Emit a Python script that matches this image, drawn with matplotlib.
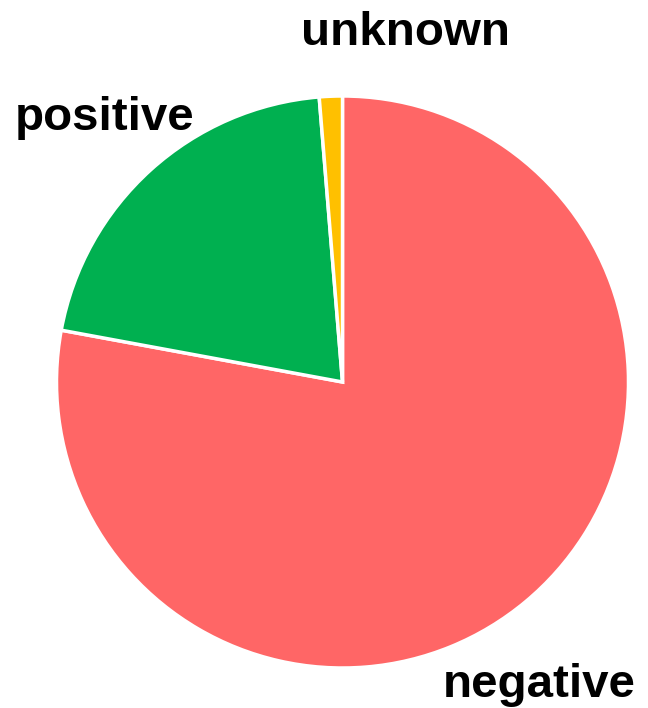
import matplotlib
matplotlib.use("Agg")
import matplotlib.pyplot as plt

labels = ["negative", "positive", "unknown"]
values = [77.9, 20.8, 1.3]
colors = ["#FF6666", "#00B050", "#FFC000"]

W, H, dpi = 648, 708, 100
fig = plt.figure(figsize=(W / dpi, H / dpi), dpi=dpi)
ax = fig.add_axes([0, 0, 1, 1])
cx, cy, r = 342.5, 382, 286

ax.pie(values, colors=colors, startangle=90, counterclock=False,
       wedgeprops=dict(edgecolor="white", linewidth=2.5), radius=1)

ax.set_xlim(-cx / r, (W - cx) / r)
ax.set_ylim(-(H - cy) / r, cy / r)
ax.set_aspect("equal")
ax.axis("off")

label_pos = {"unknown": (405, 45), "positive": (105, 130), "negative": (539, 697)}
for lab in labels:
    px, py = label_pos[lab]
    ax.text((px - cx) / r, (cy - py) / r, lab, ha="center", va="baseline",
            fontsize=34.2, fontweight="bold", family="Liberation Sans", color="black")

fig.savefig("out.png", dpi=dpi)
